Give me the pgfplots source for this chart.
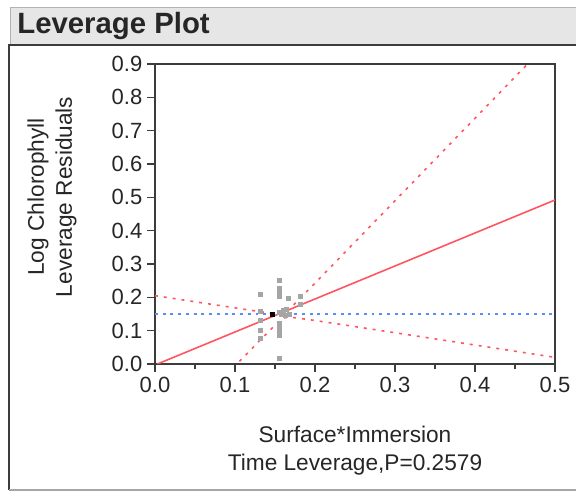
\documentclass[border=0pt]{standalone}
\usepackage{pgfplots}
\pgfplotsset{compat=1.18}
\usepackage{fontspec}
\setmainfont{Liberation Sans}
\definecolor{fitred}{RGB}{255,85,95}
\definecolor{meanblue}{RGB}{90,140,255}
\definecolor{ptgray}{RGB}{165,165,165}
\definecolor{barbg}{RGB}{230,230,230}
\definecolor{frame}{RGB}{60,60,60}
\begin{document}
\begin{tikzpicture}
\useasboundingbox (0,0) rectangle (432pt,369.75pt);
% title bar
\fill[barbg] (7.5pt,336.75pt) rectangle (432pt,363.75pt);
\draw[gray!60,line width=0.75pt] (7.5pt,336.75pt) -- (7.5pt,363.75pt) -- (432pt,363.75pt);
\node[anchor=west,font=\fontsize{22}{26}\selectfont\bfseries,text=black!85] at (9.5pt,350.5pt) {Leverage Plot};
% panel frame
\draw[frame,line width=1.3pt] (6.75pt,2.25pt) -- (6.75pt,336pt) -- (432pt,336pt);
\draw[gray!70,line width=0.9pt] (6.75pt,2.25pt) -- (432pt,2.25pt);
\begin{axis}[
  at={(116.25pt,96.75pt)}, anchor=south west,
  scale only axis, width=300pt, height=225pt,
  xmin=0, xmax=0.5, ymin=0, ymax=0.9,
  xtick={0,0.1,...,0.5}, ytick={0,0.1,...,0.9},
  minor xtick={0.05,0.15,...,0.45},
  xtick pos=bottom, ytick pos=left,
  tick align=outside,
  major tick length=6pt, minor tick length=4pt,
  axis line style={frame,line width=1.3pt},
  every tick/.style={frame,line width=1.1pt},
  tick label style={font=\fontsize{16.5}{19}\selectfont, text=black!85},
  /pgf/number format/assume math mode=true,
  xticklabel style={/pgf/number format/.cd,fixed,fixed zerofill,precision=1},
  yticklabel style={/pgf/number format/.cd,fixed,fixed zerofill,precision=1},
  xlabel={Surface*Immersion\\Time Leverage,P=0.2579},
  ylabel={Log Chlorophyll\\Leverage Residuals},
  label style={font=\fontsize{17}{21}\selectfont, text=black!85, align=center},
  xlabel style={at={(axis description cs:0.5,-0.29)}, anchor=center},
  ylabel style={at={(axis description cs:-0.2575,0.557)}, anchor=center},
  clip=true,
]
% mean line
\addplot[meanblue, line width=1.1pt, dash pattern=on 2.2pt off 3.6pt] coordinates {(0,0.15) (0.5,0.15)};
% fit line
\addplot[fitred, line width=1.2pt] coordinates {(0.003,0) (0.5,0.492)};
% confidence curves
\addplot[fitred, line width=1.2pt, dash pattern=on 2.2pt off 4.5pt, smooth] coordinates {
(0,0.2051) (0.05,0.1867) (0.1,0.1684) (0.13,0.1576) (0.15,0.1514) (0.161,0.1534) (0.17,0.1700) (0.19,0.2180) (0.22,0.2919) (0.3,0.4897) (0.4,0.7373) (0.466,0.9007) (0.5,0.9849)};
\addplot[fitred, line width=1.2pt, dash pattern=on 2.2pt off 4.5pt, smooth] coordinates {
(0.09,-0.0307) (0.1,-0.006) (0.13,0.068) (0.15,0.1162) (0.161,0.1374) (0.17,0.1398) (0.19,0.1339) (0.22,0.1232) (0.3,0.0938) (0.4,0.0569) (0.5,0.0199)};
% points
\addplot[ptgray, only marks, mark=square*, mark size=1.5pt, mark options={draw=ptgray, fill=ptgray}] coordinates {
(0.132,0.210) (0.132,0.157) (0.132,0.132) (0.132,0.102) (0.132,0.077)
(0.155,0.252) (0.155,0.227) (0.155,0.215) (0.155,0.203) (0.155,0.122) (0.155,0.110) (0.155,0.098) (0.155,0.085) (0.155,0.017)
(0.155,0.155) (0.160,0.160) (0.164,0.165) (0.168,0.150) (0.163,0.145) (0.158,0.148)
(0.167,0.197) (0.181,0.202) (0.181,0.178)};
\addplot[black, only marks, mark=square*, mark size=1.5pt, mark options={draw=black, fill=black}] coordinates {(0.146,0.150)};
\end{axis}
\end{tikzpicture}
\end{document}
